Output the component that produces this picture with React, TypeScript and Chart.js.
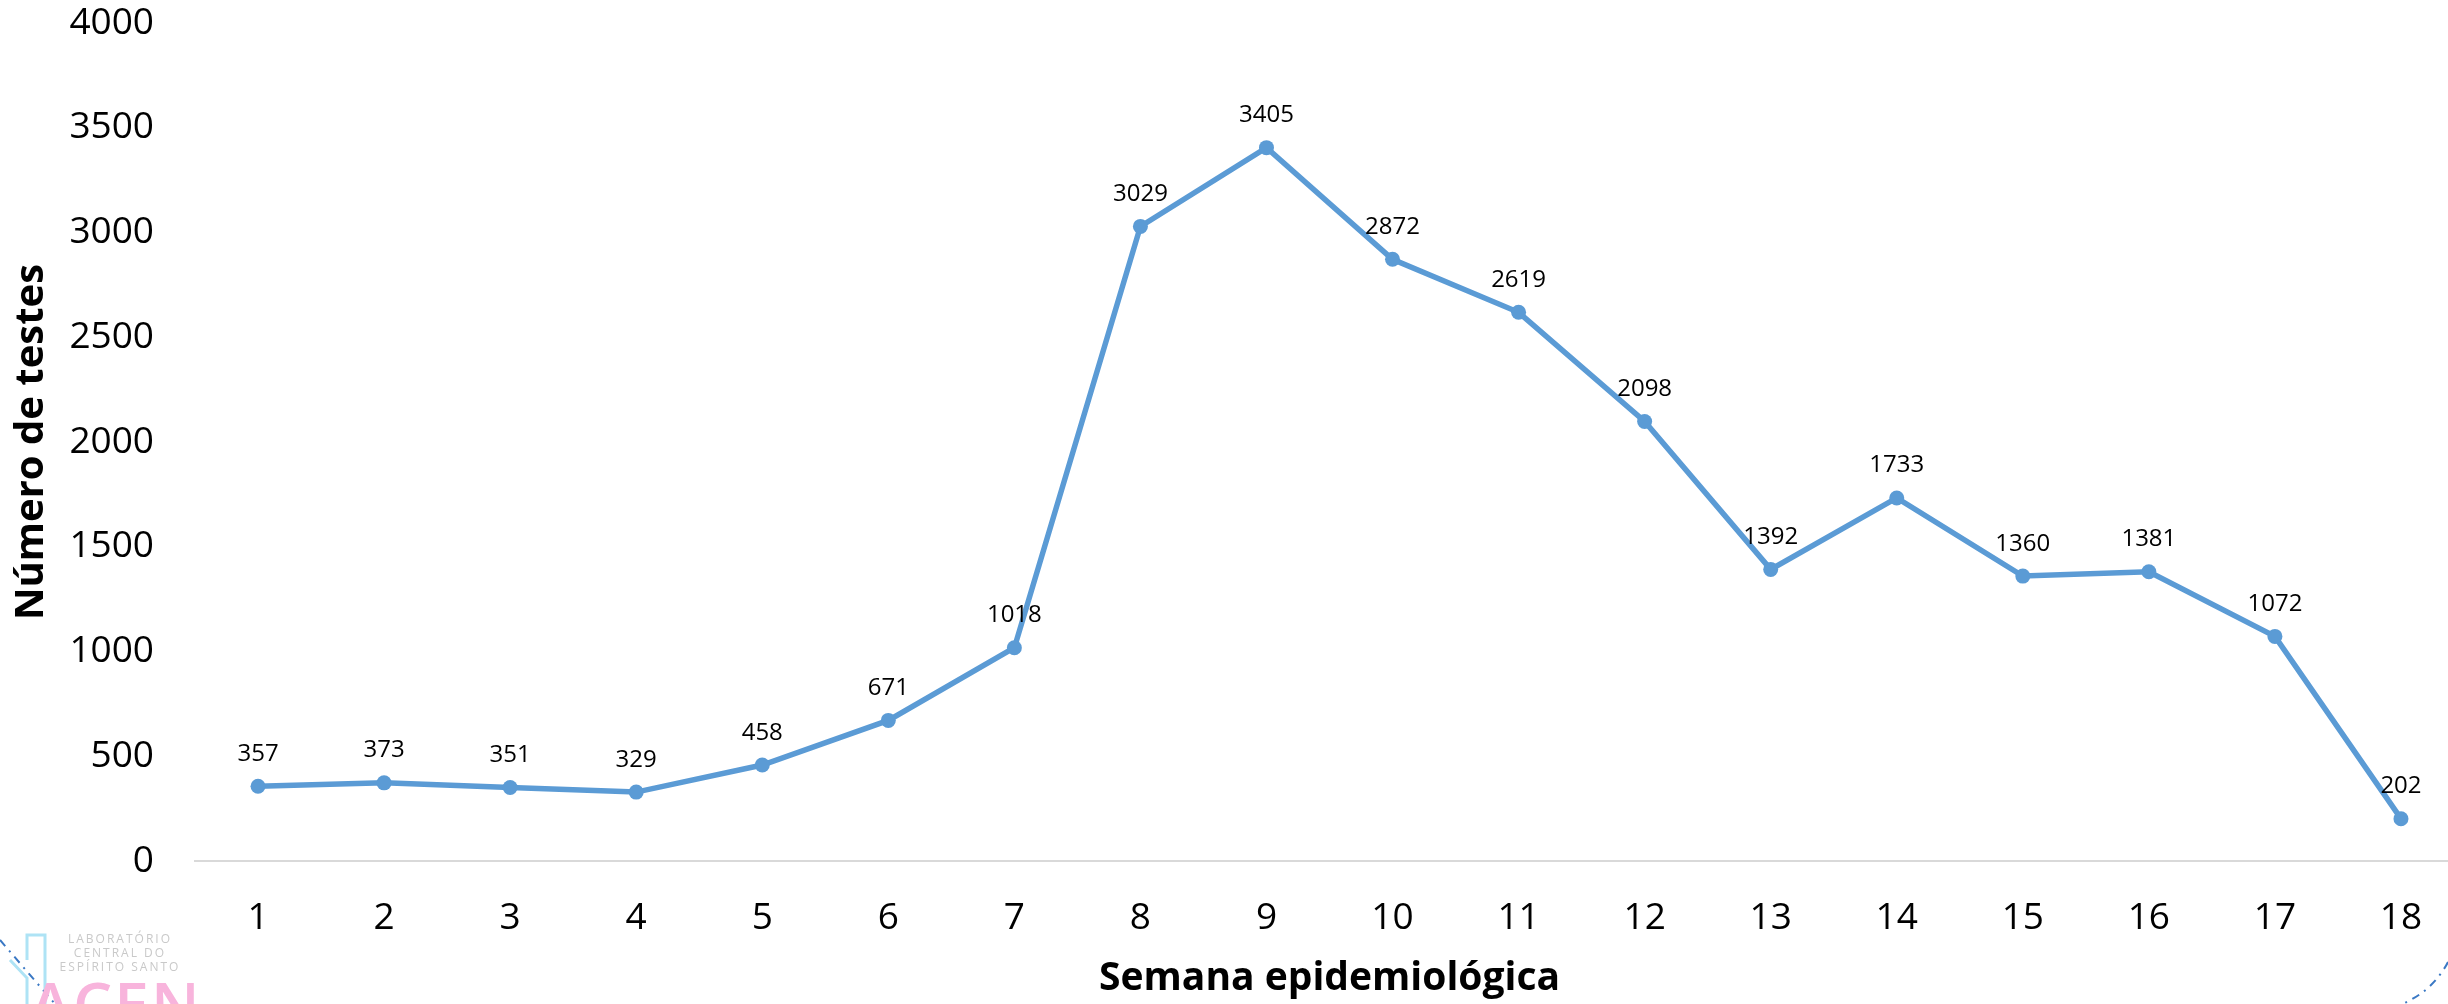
import React, { useEffect, useRef } from "react";
import { Chart, registerables } from "chart.js";

Chart.register(...registerables);

const weeks: string[] = ["1","2","3","4","5","6","7","8","9","10","11","12","13","14","15","16","17","18"];
const testCounts: number[] = [357, 373, 351, 329, 458, 671, 1018, 3029, 3405, 2872, 2619, 2098, 1392, 1733, 1360, 1381, 1072, 202];
const yTicks: number[] = [0, 500, 1000, 1500, 2000, 2500, 3000, 3500, 4000];

const FONT = "'Open Sans', 'Noto Sans', sans-serif";

const dataLabels = {
  id: "dataLabels",
  afterDatasetsDraw(chart: any) {
    const ctx = chart.ctx;
    const meta = chart.getDatasetMeta(0);
    ctx.save();
    ctx.font = `24px ${FONT}`;
    ctx.fillStyle = "#000";
    ctx.textAlign = "center";
    ctx.textBaseline = "alphabetic";
    meta.data.forEach((pt: any, i: number) => {
      ctx.fillText(String(testCounts[i]), pt.x, pt.y - 25.5);
    });
    ctx.restore();
  },
};

export default function App() {
  const ref = useRef<HTMLCanvasElement | null>(null);
  useEffect(() => {
    document.documentElement.style.overflow = "hidden";
    document.body.style.overflow = "hidden";
    const chart = new Chart(ref.current as HTMLCanvasElement, {
      type: "line",
      data: {
        labels: weeks,
        datasets: [
          {
            data: testCounts,
            borderColor: "#5B9BD5",
            backgroundColor: "#5B9BD5",
            borderWidth: 5.5,
            pointRadius: 7.5,
            pointBorderWidth: 0,
            pointBackgroundColor: "#5B9BD5",
            tension: 0,
          },
        ],
      },
      options: {
        animation: false,
        responsive: true,
        maintainAspectRatio: false,
        layout: { autoPadding: false, padding: { top: 23, left: 0, right: 0, bottom: 0 } },
        plugins: { legend: { display: false }, tooltip: { enabled: false } },
        scales: {
          x: {
            type: "category",
            offset: true,
            grid: { display: false, drawTicks: false },
            border: { display: true, color: "#D9D9D9", width: 2 },
            ticks: { color: "#000", font: { family: FONT, size: 37 }, padding: 35 },
            title: {
              display: true,
              text: "Semana epidemiológica",
              color: "#000",
              font: { family: FONT, size: 39, weight: "bold" },
              padding: { top: 0, bottom: 2 },
            },
            afterFit(s: any) {
              s.height = 143;
              s.paddingLeft = 0;
              s.paddingRight = 0;
            },
          },
          y: {
            min: 0,
            max: 4000,
            afterBuildTicks(s: any) {
              s.ticks = yTicks.map((v) => ({ value: v }));
            },
            grid: { display: false, drawTicks: false },
            border: { display: false },
            ticks: {
              color: "#000",
              font: { family: FONT, size: 37 },
              padding: 41,
              callback: (v: any) => String(v),
            },
            title: {
              display: true,
              text: "Número de testes",
              color: "#000",
              font: { family: FONT, size: 40, weight: "bold" },
              padding: { top: 8, bottom: 0 },
            },
            afterFit(s: any) {
              s.width = 195;
              s.paddingTop = 0;
              s.paddingBottom = 0;
            },
          },
        },
      },
      plugins: [dataLabels],
    } as any);
    return () => chart.destroy();
  }, []);

  return (
    <div style={{ position: "fixed", left: 0, top: 0, width: 2448, height: 1004, overflow: "hidden", background: "#fff" }}>
      <div style={{ position: "absolute", left: 0, top: 0, width: 2464, height: 1004 }}>
        <canvas ref={ref} />
      </div>
      <svg width={2448} height={1004} style={{ position: "absolute", left: 0, top: 0, pointerEvents: "none" }}>
        <path d="M27 1004 L27 978 L10 960 M45 1004 L45 935 L27 935 L27 960" fill="none" stroke="#aee3f5" strokeWidth={3} />
        <path d="M0 940 L55 1004" fill="none" stroke="#3a78c4" strokeWidth={2} strokeDasharray="8 6 2 6" />
        <path d="M2448 962 A 90 90 0 0 1 2402 1004" fill="none" stroke="#3a78c4" strokeWidth={2} strokeDasharray="8 6 2 6" />
      </svg>
      <div style={{ position: "absolute", left: 50, top: 932, width: 140, fontFamily: FONT, fontSize: 12, lineHeight: "14px", color: "#c9c9c9", letterSpacing: 2, textAlign: "center", whiteSpace: "nowrap" }}>
        <div>LABORATÓRIO</div>
        <div>CENTRAL DO</div>
        <div>ESPÍRITO SANTO</div>
      </div>
      <div style={{ position: "absolute", left: 30, top: 972, fontFamily: FONT, fontSize: 62, fontWeight: 600, lineHeight: "62px", color: "#f8b4dc", letterSpacing: 2 }}>
        ACEN
      </div>
    </div>
  );
}
